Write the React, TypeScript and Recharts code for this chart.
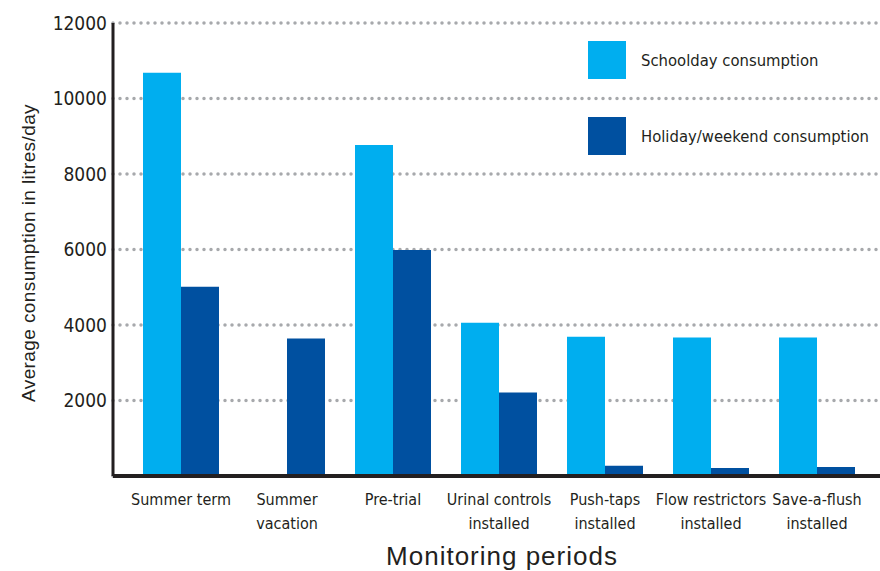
import { Bar, BarChart, CartesianGrid, Label, Legend, XAxis, YAxis } from "recharts";

const periods = [
  "Summer term",
  "Summer\nvacation",
  "Pre-trial",
  "Urinal controls\ninstalled",
  "Push-taps\ninstalled",
  "Flow restrictors\ninstalled",
  "Save-a-flush\ninstalled",
];
const schoolday = [10680, 0, 8770, 4060, 3690, 3670, 3670];
const holiday = [5010, 3640, 5990, 2210, 270, 210, 240];
const yTicks = [2000, 4000, 6000, 8000, 10000, 12000];

const LIGHT = "#00aeef";
const DARK = "#0050a0";
const INK = "#231f20";
const NARROW = "'DejaVu Sans Condensed', 'DejaVu Sans', sans-serif";
const PLAIN = "'Liberation Sans', Arial, sans-serif";

const data = periods.map((period, i) => ({
  period,
  schoolday: schoolday[i],
  holiday: holiday[i],
}));

const legendItems = [
  { name: "Schoolday consumption", color: LIGHT },
  { name: "Holiday/weekend consumption", color: DARK },
];

const PeriodTick = (props: any) => {
  const { x, y, payload } = props;
  const lines = String(payload.value).split("\n");
  return (
    <text
      x={x}
      y={y}
      textAnchor="middle"
      fill={INK}
      fontFamily={NARROW}
      fontStretch="condensed"
      fontSize={16}
    >
      {lines.map((line, i) => (
        <tspan key={i} x={x} dy={i === 0 ? 21 : 24}>
          {line}
        </tspan>
      ))}
    </text>
  );
};

const renderLegend = () => (
  <div>
    {legendItems.map((item) => (
      <div
        key={item.name}
        style={{ display: "flex", alignItems: "center", height: 38, marginBottom: 38 }}
      >
        <div style={{ width: 38, height: 38, background: item.color, flex: "none" }} />
        <span
          style={{
            marginLeft: 15,
            fontFamily: NARROW,
            fontStretch: "condensed",
            fontSize: 16.5,
            whiteSpace: "nowrap",
            color: INK,
          }}
        >
          {item.name}
        </span>
      </div>
    ))}
  </div>
);

export default function App() {
  return (
    <div style={{ position: "absolute", left: 0, top: 0, background: "#fff" }}>
      <BarChart
        width={880}
        height={571}
        data={data}
        margin={{ top: 23, right: 0, bottom: 0, left: 0 }}
        barCategoryGap={15}
        barGap={0}
      >
        <CartesianGrid
          vertical={false}
          stroke="#a7a9ac"
          strokeWidth={3.5}
          strokeDasharray="0 7"
          strokeLinecap="round"
        />
        <XAxis
          dataKey="period"
          interval={0}
          height={95}
          padding={{ left: 15, right: 10 }}
          tickLine={false}
          tick={<PeriodTick />}
          axisLine={{ stroke: INK, strokeWidth: 4 }}
        >
          <Label
            content={() => (
              <text
                x={502}
                y={565}
                textAnchor="middle"
                fill={INK}
                fontFamily={PLAIN}
                fontSize={26}
                letterSpacing={1}
              >
                Monitoring periods
              </text>
            )}
          />
        </XAxis>
        <YAxis
          width={113}
          domain={[0, 12000]}
          ticks={yTicks}
          tickLine={false}
          tickSize={0}
          tickMargin={6}
          axisLine={{ stroke: INK, strokeWidth: 3 }}
          tick={{
            fill: INK,
            fontFamily: NARROW,
            fontStretch: "condensed",
            fontSize: 19,
            fontWeight: 500,
          }}
        >
          <Label
            content={() => (
              <text
                x={28}
                y={253}
                transform="rotate(-90 28 253)"
                textAnchor="middle"
                dominantBaseline="central"
                fill={INK}
                fontFamily={PLAIN}
                fontSize={19}
                letterSpacing={0.4}
              >
                Average consumption in litres/day
              </text>
            )}
          />
        </YAxis>
        <Legend
          layout="vertical"
          align="center"
          verticalAlign="middle"
          content={renderLegend}
          wrapperStyle={{ position: "absolute", left: 588, top: 41, width: 292 }}
        />
        <Bar dataKey="schoolday" fill={LIGHT} isAnimationActive={false} />
        <Bar dataKey="holiday" fill={DARK} isAnimationActive={false} />
      </BarChart>
    </div>
  );
}
